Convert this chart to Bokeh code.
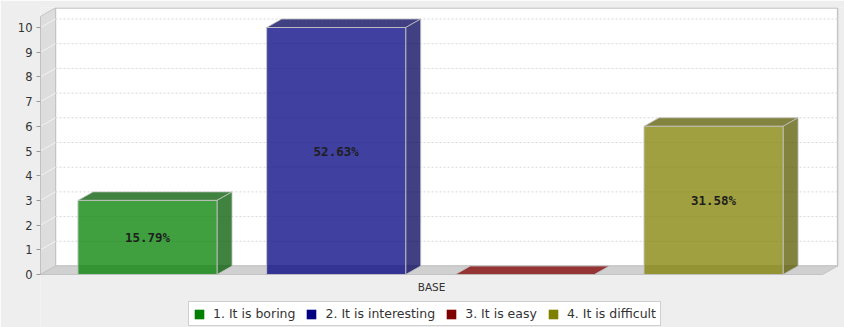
from bokeh.plotting import figure
from bokeh.models import Range1d, FixedTicker, Legend, LegendItem
from bokeh.core.properties import value
from bokeh.embed import file_html
from bokeh.resources import INLINE

# ---- data -------------------------------------------------------------
categories = ["BASE"]
series = ["1. It is boring", "2. It is interesting", "3. It is easy", "4. It is difficult"]
counts = [3, 10, 0, 6]
colors = ["#008000", "#000080", "#800000", "#808000"]
y_ticks = list(range(0, 11))

# ---- 3D box geometry (data units) -------------------------------------
bar_w = 0.737            # bar width as a fraction of the slot
x_lo, x_hi = -0.567, 3.578
y_top = 10.45            # upper bound of the value axis
dx, dy = 0.0795, 0.344   # depth offset of the 3D effect
edge = "#c4c4c4"


def darker(hexcol, f=0.7):
    r, g, b = (int(hexcol[k:k + 2], 16) for k in (1, 3, 5))
    return "#%02x%02x%02x" % (int(r * f), int(g * f), int(b * f))


p = figure(width=844, height=327, output_backend="svg", toolbar_location=None,
           x_range=Range1d(-0.567, 3.694), y_range=Range1d(-2.146, 10.81),
           x_axis_location=None,
           min_border_left=40, min_border_right=0, min_border_top=7, min_border_bottom=0,
           background_fill_color="#eeeeee", border_fill_color="#eeeeee",
           outline_line_color=None)
p.xgrid.visible = False
p.ygrid.visible = False

ax = p.yaxis[0]
ax.ticker = FixedTicker(ticks=y_ticks)
ax.axis_line_color = None
ax.major_tick_line_color = "#999999"
ax.major_tick_out = 4
ax.major_tick_in = 0
ax.minor_tick_line_color = None
ax.major_label_text_font = "DejaVu Sans"
ax.major_label_text_font_size = "11.5px"
ax.major_label_text_color = "#333333"
ax.major_label_standoff = 4

# ---- walls -------------------------------------------------------------
p.quad(left=[x_lo + dx], right=[x_hi + dx], bottom=[dy], top=[y_top + dy],
       fill_color="white", line_color=edge, line_width=1.5)
p.patch([x_lo, x_lo + dx, x_lo + dx, x_lo], [0, dy, y_top + dy, y_top],
        fill_color="#dddddd", line_color=edge)

# gridlines on the back wall and the left wall
grid_t = [t for t in y_ticks if t > 0]
p.segment(x0=[x_lo + dx] * len(grid_t), x1=[x_hi + dx] * len(grid_t),
          y0=[t + dy for t in grid_t], y1=[t + dy for t in grid_t],
          line_color="#d8d8d8", line_dash="2 2", line_width=1)
p.segment(x0=[x_lo] * len(grid_t), x1=[x_lo + dx] * len(grid_t),
          y0=grid_t, y1=[t + dy for t in grid_t],
          line_color="#f2f2f2", line_width=1)

p.patch([x_lo, x_hi, x_hi + dx, x_lo + dx], [0, 0, dy, dy],
        fill_color="#d0d0d0", line_color=edge)

# value axis line along the front-left edge
p.segment(x0=[x_lo], x1=[x_lo], y0=[0], y1=[y_top], line_color="#aaaaaa")

# ---- bars ---------------------------------------------------------------
idx = list(range(len(counts)))
lefts = [i - bar_w / 2 for i in idx]
rights = [i + bar_w / 2 for i in idx]

tops_x = [[l, r, r + dx, l + dx] for l, r in zip(lefts, rights)]
tops_y = [[v, v, v + dy, v + dy] for v in counts]
top_fill = [c if v == 0 else darker(c) for c, v in zip(colors, counts)]
p.patches(tops_x, tops_y, fill_color=top_fill, fill_alpha=0.75,
          line_color=edge, line_alpha=0.8)

nz = [i for i in idx if counts[i] > 0]
p.patches([[rights[i], rights[i] + dx, rights[i] + dx, rights[i]] for i in nz],
          [[0, dy, counts[i] + dy, counts[i]] for i in nz],
          fill_color=[darker(colors[i]) for i in nz], fill_alpha=0.75,
          line_color=edge, line_alpha=0.8)
p.quad(left=[lefts[i] for i in nz], right=[rights[i] for i in nz],
       bottom=[0] * len(nz), top=[counts[i] for i in nz],
       fill_color=[colors[i] for i in nz], fill_alpha=0.75,
       line_color=edge, line_alpha=0.9)

# percentage labels in the middle of each bar
total = sum(counts)
p.text(x=[i for i in nz], y=[counts[i] / 2 for i in nz],
       text=["%.2f%%" % (counts[i] / total * 100) for i in nz],
       text_font=value("DejaVu Sans Mono"), text_font_style="bold",
       text_font_size="12.5px", text_color="#1e1e1e",
       text_align="center", text_baseline="middle")

# category label under the floor
p.text(x=[(x_lo + x_hi) / 2], y=[-0.49], text=categories,
       text_font=value("DejaVu Sans"), text_font_size="10.5px", text_color="#333333",
       text_align="center", text_baseline="middle")

# ---- legend -------------------------------------------------------------
# solid swatch per series: a zero-width quad on the bar's centre line,
# which leaves nothing in the plot but gives the legend its colour
items = []
for i, (name, c) in enumerate(zip(series, colors)):
    r = p.quad(left=[i], right=[i], bottom=[0], top=[counts[i]],
               fill_color=c, line_color=None)
    items.append(LegendItem(label=name, renderers=[r]))

legend = Legend(items=items, orientation="horizontal", location=(148, 1),
                border_line_color="#a0a0a0", background_fill_color="white",
                background_fill_alpha=1, padding=4, spacing=10, margin=0,
                glyph_width=12, glyph_height=12, label_standoff=8,
                label_height=12, label_text_font="DejaVu Sans",
                label_text_font_size="12.5px", label_text_color="#333333",
                label_text_baseline="middle")
p.add_layout(legend)

open("out.html", "w").write(file_html(p, INLINE))
